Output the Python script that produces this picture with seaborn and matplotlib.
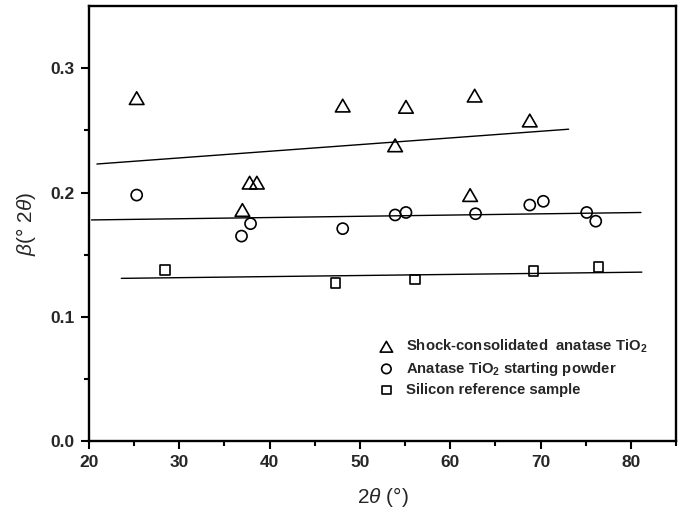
import matplotlib
matplotlib.use("Agg")
import matplotlib.pyplot as plt
from matplotlib.path import Path
import pandas as pd
import seaborn as sns

# Peak positions (2θ, degrees) and integral breadths β (° 2θ)
two_theta_shock = [25.3, 37.0, 37.8, 38.6, 48.1, 53.9, 55.1, 62.2, 62.7, 68.8]
beta_shock = [0.276, 0.186, 0.208, 0.208, 0.270, 0.238, 0.269, 0.198, 0.278, 0.258]

two_theta_powder = [25.3, 36.9, 37.9, 48.1, 53.9, 55.1, 62.8, 68.8, 70.3, 75.1, 76.1]
beta_powder = [0.198, 0.165, 0.175, 0.171, 0.182, 0.184, 0.183, 0.190, 0.193, 0.184, 0.177]

two_theta_si = [28.4, 47.3, 56.1, 69.2, 76.4]
beta_si = [0.138, 0.127, 0.130, 0.137, 0.140]

# Linear fits (end points)
fit_x_shock = [20.9, 73.1]
fit_y_shock = [0.223, 0.251]
fit_x_powder = [20.3, 81.1]
fit_y_powder = [0.178, 0.184]
fit_x_si = [23.6, 81.2]
fit_y_si = [0.131, 0.136]

series_labels = [
    "Shock-consolidated  anatase TiO$_\\mathbf{2}$",
    "Anatase TiO$_\\mathbf{2}$ starting powder",
    "Silicon reference sample",
]

x_ticks = [20, 30, 40, 50, 60, 70, 80]
y_ticks = [0.0, 0.1, 0.2, 0.3]

sns.set_style("ticks")
plt.rcParams["font.family"] = ["Liberation Sans", "DejaVu Sans"]
plt.rcParams["mathtext.fontset"] = "custom"
plt.rcParams["mathtext.rm"] = "Liberation Sans"
plt.rcParams["mathtext.it"] = "Liberation Sans:italic"
plt.rcParams["mathtext.bf"] = "Liberation Sans:bold"

fig = plt.figure(figsize=(6.83, 5.13), dpi=100)
ax = fig.add_axes([0.130, 0.140, 0.860, 0.848])

# closed, equilateral-looking open triangle
tri = Path([(-1.0, -0.866), (1.0, -0.866), (0.0, 0.866), (-1.0, -0.866)], closed=True)

shock = pd.DataFrame({"x": two_theta_shock, "y": beta_shock})
powder = pd.DataFrame({"x": two_theta_powder, "y": beta_powder})
si = pd.DataFrame({"x": two_theta_si, "y": beta_si})

common = dict(facecolor="none", edgecolor="black", linewidth=1.2, ax=ax, zorder=3)
sns.scatterplot(data=shock, x="x", y="y", marker=tri, s=10.5 ** 2,
                label=series_labels[0], **common)
sns.scatterplot(data=powder, x="x", y="y", marker="o", s=8 ** 2,
                label=series_labels[1], **common)
sns.scatterplot(data=si, x="x", y="y", marker="s", s=7 ** 2,
                label=series_labels[2], **common)

for fx, fy in [(fit_x_shock, fit_y_shock), (fit_x_powder, fit_y_powder), (fit_x_si, fit_y_si)]:
    sns.lineplot(x=fx, y=fy, color="black", linewidth=1.0, ax=ax, zorder=2)

ax.set_xlim(20, 85)
ax.set_ylim(0.0, 0.35)
ax.set_xticks(x_ticks)
ax.set_yticks(y_ticks)
ax.set_xticks([25, 35, 45, 55, 65, 75, 85], minor=True)
ax.set_yticks([0.05, 0.15, 0.25], minor=True)
ax.set_xticklabels([str(v) for v in x_ticks])
ax.set_yticklabels([f"{v:.1f}" for v in y_ticks])

for side in ["left", "right", "top", "bottom"]:
    ax.spines[side].set_visible(True)
    ax.spines[side].set_linewidth(1.7)
    ax.spines[side].set_color("black")

ax.tick_params(which="major", direction="out", length=6, width=1.5,
               labelsize=12.5, pad=4, color="black")
ax.tick_params(which="minor", direction="out", length=3.5, width=1.5, color="black")
ax.tick_params(top=False, right=False, which="both")
for lbl in ax.get_xticklabels() + ax.get_yticklabels():
    lbl.set_fontweight("bold")

ax.set_xlabel("2$\\mathit{\\theta}$ (°)", fontsize=15, labelpad=11)
ax.set_ylabel("$\\mathit{\\beta}$(° 2$\\mathit{\\theta}$)", fontsize=15, labelpad=9)

ax.legend(loc="upper left", bbox_to_anchor=(0.494, 0.238), frameon=False,
          prop={"weight": "bold", "size": 10.7}, handlelength=1.0,
          handletextpad=0.8, labelspacing=0.32, borderpad=0, borderaxespad=0,
          markerscale=0.85)

fig.savefig("out.png", dpi=100)
